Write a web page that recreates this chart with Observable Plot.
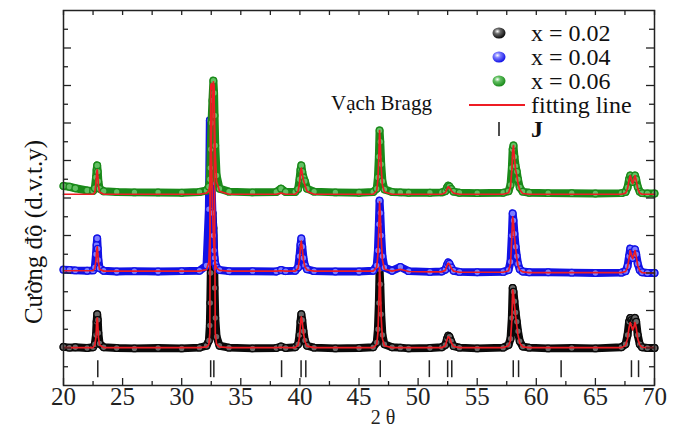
<!DOCTYPE html>
<html><head><meta charset="utf-8">
<script src="https://cdn.jsdelivr.net/npm/d3@7"></script>
<script src="https://cdn.jsdelivr.net/npm/@observablehq/plot@0.6"></script>
<style>
html,body{margin:0;padding:0;background:#fff;}
#chart{position:relative;width:679px;height:428px;}
</style></head><body><div id="chart"></div>
<script>
// ---- data ----
const twoTheta = [
  20, 20.5, 21, 22, 22.5,
  22.65, 22.75, 22.8, 22.85, 22.9, 22.95, 23.05,
  23.4, 24.5, 26, 28, 30, 31.5, 32.1,
  32.3, 32.38, 32.42, 32.46, 32.52, 32.6, 32.68, 32.74, 32.78, 32.84, 32.95, 33.2,
  34, 36, 38, 38.4, 38.8, 39.6,
  39.85, 39.97, 40.05, 40.12, 40.2, 40.3, 40.42, 40.6,
  41.2, 43, 45, 46.2,
  46.5, 46.6, 46.68, 46.74, 46.8, 46.88, 46.98, 47.15,
  47.8, 48.5, 49.2, 51, 52,
  52.3, 52.45, 52.55, 52.65, 52.8, 53.0,
  53.5, 55, 57.2,
  57.65, 57.82, 57.93, 58.0, 58.07, 58.15, 58.25, 58.35, 58.45, 58.6, 58.85,
  59.4, 61, 63, 65, 67.2,
  67.55, 67.72, 67.85, 67.95, 68.05, 68.15, 68.25, 68.35, 68.45, 68.58, 68.75, 68.95,
  69.4, 70
];
const obs002 = [
  10.3, 10.1, 10.2, 10.0, 10.2,
  11.0, 13.5, 17.0, 19.0, 17.5, 14.0, 11.2,
  10.2, 10.0, 9.9, 10.0, 9.9, 10.1, 10.6,
  12.0, 16.0, 22.0, 30.0, 38.0, 46.0, 42.0, 34.0, 26.0, 18.0, 13.0, 10.6,
  10.1, 9.9, 10.0, 10.4, 10.0, 10.2,
  11.0, 13.5, 17.0, 19.0, 17.5, 14.5, 12.0, 10.6,
  10.1, 9.9, 10.0, 10.2,
  11.5, 15.0, 22.0, 31.0, 27.0, 19.0, 13.5, 11.0,
  10.2, 10.1, 9.9, 10.0, 10.2,
  10.8, 12.5, 13.3, 13.0, 11.8, 10.5,
  10.1, 9.9, 10.1,
  10.8, 12.5, 18.0, 26.0, 25.0, 22.5, 19.5, 17.0, 14.5, 11.8, 10.4,
  10.1, 9.9, 10.0, 9.9, 10.2,
  11.0, 13.5, 17.0, 18.0, 17.5, 17.0, 17.5, 18.0, 17.0, 13.5, 11.0, 10.2,
  10.0, 10.0
];
const fit002 = [
  10.1, 10.1, 10.1, 10.1, 10.1,
  10.8, 13.0, 16.5, 18.0, 16.5, 13.0, 10.8,
  10.1, 10.1, 10.1, 10.1, 10.1, 10.1, 10.3,
  11.0, 14.0, 50.0, 80.0, 80.5, 79.0, 80.5, 80.0, 50.0, 14.0, 11.0, 10.3,
  10.1, 10.1, 10.1, 10.2, 10.1, 10.1,
  10.8, 13.0, 16.5, 18.3, 17.0, 14.0, 11.8, 10.5,
  10.1, 10.1, 10.1, 10.1,
  11.0, 14.0, 22.0, 31.5, 28.0, 18.0, 12.5, 10.6,
  10.1, 10.1, 10.1, 10.1, 10.1,
  10.6, 12.2, 13.0, 12.8, 11.5, 10.4,
  10.1, 10.1, 10.1,
  10.6, 12.0, 17.5, 25.5, 24.5, 21.5, 18.5, 16.0, 13.5, 11.3, 10.3,
  10.1, 10.1, 10.1, 10.1, 10.1,
  10.7, 12.5, 15.5, 16.8, 15.8, 14.8, 15.5, 16.8, 15.5, 12.5, 10.8, 10.2,
  10.1, 10.1
];
const obs004 = [
  30.9, 30.8, 30.7, 30.6, 30.7,
  31.5, 35.0, 37.5, 39.2, 36.5, 33.5, 31.3,
  30.6, 30.4, 30.5, 30.4, 30.5, 30.6, 32.0,
  47.0, 70.7, 65.0, 60.0, 54.0, 46.0, 40.0, 36.0, 34.0, 32.5, 31.5, 30.8,
  30.5, 30.5, 30.4, 30.8, 30.5, 30.6,
  31.5, 34.5, 37.5, 39.2, 37.0, 34.0, 32.0, 31.0,
  30.5, 30.4, 30.4, 30.6,
  32.0, 36.0, 43.0, 49.3, 46.0, 40.0, 34.5, 31.5,
  30.6, 31.6, 30.5, 30.3, 30.4,
  30.9, 32.2, 32.8, 32.5, 31.5, 30.6,
  30.3, 30.2, 30.3,
  30.8, 33.0, 40.0, 45.9, 44.0, 40.5, 37.0, 34.5, 32.5, 31.0, 30.4,
  30.2, 30.2, 30.1, 30.0, 30.1,
  30.5, 31.8, 34.5, 36.5, 35.5, 34.0, 35.0, 36.3, 35.0, 32.5, 30.8, 30.2,
  30.0, 30.0
];
const fit004 = [
  30.6, 30.6, 30.6, 30.6, 30.6,
  31.2, 33.5, 35.8, 37.0, 35.5, 33.0, 31.0,
  30.5, 30.5, 30.5, 30.5, 30.5, 30.5, 30.9,
  33.0, 40.0, 55.0, 70.0, 62.0, 48.0, 40.0, 36.0, 34.0, 32.5, 31.3, 30.7,
  30.5, 30.5, 30.5, 30.6, 30.5, 30.5,
  31.2, 33.8, 37.0, 38.5, 36.5, 33.5, 31.7, 30.8,
  30.5, 30.5, 30.5, 30.5,
  31.5, 35.0, 42.5, 49.0, 45.5, 39.0, 33.5, 31.0,
  30.5, 31.0, 30.4, 30.3, 30.3,
  30.7, 32.0, 32.6, 32.3, 31.3, 30.5,
  30.2, 30.2, 30.2,
  30.6, 32.5, 39.5, 45.0, 43.5, 40.0, 36.5, 34.0, 32.0, 30.8, 30.3,
  30.1, 30.1, 30.1, 30.1, 30.1,
  30.4, 31.5, 34.0, 36.0, 34.8, 33.8, 34.8, 36.0, 34.5, 32.0, 30.6, 30.1,
  30.0, 30.0
];
const obs006 = [
  53.2, 53.0, 52.6, 52.0, 51.9,
  52.6, 55.5, 57.5, 58.7, 57.0, 54.5, 52.5,
  51.8, 51.6, 51.5, 51.5, 51.4, 51.6, 52.0,
  53.0, 55.0, 58.0, 63.0, 70.0, 76.0, 81.3, 78.0, 72.0, 64.0, 56.0, 52.5,
  51.7, 51.5, 51.6, 52.5, 51.6, 51.6,
  52.4, 55.0, 57.5, 58.7, 57.0, 55.5, 54.5, 52.5,
  51.7, 51.5, 51.4, 51.6,
  52.5, 55.5, 61.0, 68.0, 65.0, 59.0, 54.5, 52.3,
  51.6, 51.5, 51.4, 51.4, 51.5,
  51.8, 52.8, 53.3, 53.1, 52.4, 51.7,
  51.4, 51.3, 51.4,
  51.8, 53.5, 58.0, 63.0, 64.0, 61.0, 58.5, 57.0, 55.0, 52.8, 51.7,
  51.4, 51.3, 51.3, 51.2, 51.3,
  51.6, 52.8, 55.0, 56.0, 55.2, 54.3, 55.0, 56.0, 55.0, 53.0, 51.7, 51.3,
  51.2, 51.2
];
const fit006 = [
  51.0, 51.0, 51.0, 51.0, 51.0,
  51.5, 54.0, 56.5, 57.5, 56.0, 53.5, 51.6,
  51.0, 51.0, 51.0, 51.0, 51.0, 51.0, 51.3,
  52.0, 53.5, 56.0, 60.0, 67.0, 75.0, 81.0, 77.0, 70.0, 62.0, 54.5, 51.8,
  51.0, 51.0, 51.0, 51.3, 51.0, 51.0,
  51.8, 54.0, 56.8, 58.0, 56.5, 54.8, 53.5, 51.8,
  51.0, 51.0, 51.0, 51.0,
  52.0, 55.0, 61.0, 68.0, 64.5, 58.0, 53.5, 51.6,
  51.0, 51.0, 51.0, 51.0, 51.0,
  51.4, 52.4, 53.0, 52.8, 52.0, 51.3,
  51.0, 51.0, 51.0,
  51.4, 53.0, 57.5, 62.5, 64.0, 60.5, 57.5, 56.0, 54.0, 52.2, 51.2,
  51.0, 51.0, 51.0, 51.0, 51.0,
  51.3, 52.5, 54.8, 56.0, 54.8, 53.8, 54.8, 56.0, 54.8, 52.5, 51.3, 51.0,
  51.0, 51.0
];
const braggLines = [22.9, 32.45, 32.72, 38.45, 40.1, 40.5, 46.8, 50.95, 52.5, 52.85, 58.05, 58.5, 62.1, 68.05, 68.65];
const xMajorTicks = [20, 25, 30, 35, 40, 45, 50, 55, 60, 65, 70];
const xMinorTicks = [22.5, 27.5, 32.5, 37.5, 42.5, 47.5, 52.5, 57.5, 62.5, 67.5];
const yMajorTicks = [10, 20, 30, 40, 50, 60, 70, 80, 90];
const yMinorTicks = [5, 15, 25, 35, 45, 55, 65, 75, 85, 95];
const seriesLabels = ["x = 0.02", "x = 0.04", "x = 0.06"];
const fitLabel = "fitting line";
const braggLabel = "J";
const annotations = [{text: "Vạch Bragg", x: 46.9, y: 75.2}];
const xLabel = "2 θ";
const yLabel = "Cường độ (d.v.t.y)";

// ---- layout / style ----
const W = 679, H = 428, mL = 63, mR = 25, mT = 10, mB = 43;
const xDomain = [20, 70], yDomain = [0, 100];
const yPerPx = (yDomain[1] - yDomain[0]) / (H - mT - mB);
const xPerPx = (xDomain[1] - xDomain[0]) / (W - mL - mR);
const FONT = "'Liberation Serif', 'Times New Roman', serif";
const colors = [
  {stroke: "#0a0a0a", fill: "#6a6a6a"},
  {stroke: "#1212e6", fill: "#7d7dff"},
  {stroke: "#1a8a1a", fill: "#63c063"}
];
const RED = "#ee1c24";

const obsSeries = [obs002, obs004, obs006];
const fitSeries = [fit002, fit004, fit006];
const rows = ys => twoTheta.map((t, i) => ({t, v: ys[i]}));

const marks = [];
obsSeries.forEach((ys, k) => {
  const data = rows(ys);
  marks.push(Plot.line(data, {x: "t", y: "v", stroke: colors[k].stroke, strokeWidth: 8, strokeLinecap: "round", strokeLinejoin: "round"}));
  marks.push(Plot.dot(data, {x: "t", y: "v", r: 3.3, fill: colors[k].fill, stroke: colors[k].stroke, strokeWidth: 1.3}));
});
fitSeries.forEach(ys => {
  marks.push(Plot.line(rows(ys), {x: "t", y: "v", stroke: RED, strokeWidth: 1.7}));
});
// Bragg position markers
marks.push(Plot.ruleX(braggLines, {x: d => d, y1: 2.1, y2: 6.6, stroke: "#222", strokeWidth: 1.5}));
// frame & inward ticks
marks.push(Plot.frame({stroke: "#222", strokeWidth: 1.5}));
marks.push(Plot.ruleX(xMajorTicks, {x: d => d, y1: yDomain[0], y2: yDomain[0] + 7 * yPerPx, stroke: "#222", strokeWidth: 1.3}));
marks.push(Plot.ruleX(xMinorTicks, {x: d => d, y1: yDomain[0], y2: yDomain[0] + 4 * yPerPx, stroke: "#222", strokeWidth: 1.3}));
marks.push(Plot.ruleX(xMajorTicks.concat(xMinorTicks), {x: d => d, y1: yDomain[1], y2: yDomain[1] - 5 * yPerPx, stroke: "#222", strokeWidth: 1.3}));
marks.push(Plot.ruleY(yMajorTicks, {y: d => d, x1: xDomain[0], x2: xDomain[0] + 8 * xPerPx, stroke: "#222", strokeWidth: 1.3}));
marks.push(Plot.ruleY(yMinorTicks, {y: d => d, x1: xDomain[0], x2: xDomain[0] + 5 * xPerPx, stroke: "#222", strokeWidth: 1.3}));
marks.push(Plot.ruleY(yMajorTicks, {y: d => d, x1: xDomain[1], x2: xDomain[1] - 8 * xPerPx, stroke: "#222", strokeWidth: 1.3}));
marks.push(Plot.ruleY(yMinorTicks, {y: d => d, x1: xDomain[1], x2: xDomain[1] - 5 * xPerPx, stroke: "#222", strokeWidth: 1.3}));
// tick labels
marks.push(Plot.axisX(xMajorTicks, {tickSize: 0, tickPadding: 2, fontSize: 25, fontFamily: FONT, fill: "#222"}));
// annotation
marks.push(Plot.text(annotations, {x: "x", y: "y", text: "text", fontSize: 21, fontFamily: FONT, fill: "#111"}));
// axis titles
marks.push(Plot.text([xLabel], {text: d => d, frameAnchor: "bottom", textAnchor: "middle", lineAnchor: "middle", dx: 24, dy: 32, fontSize: 20, fontFamily: FONT, fill: "#222"}));
marks.push(Plot.text([yLabel], {text: d => d, frameAnchor: "left", textAnchor: "middle", lineAnchor: "middle", rotate: -90, dx: -30, dy: 34, fontSize: 25, fontFamily: FONT, fill: "#111"}));

const chart = Plot.plot({
  width: W, height: H,
  marginLeft: mL, marginRight: mR, marginTop: mT, marginBottom: mB,
  x: {domain: xDomain, axis: null},
  y: {domain: yDomain, axis: null},
  style: {fontFamily: FONT, background: "#fff", overflow: "visible"},
  marks
});
document.getElementById("chart").appendChild(chart);

// ---- legend (inside the frame, top right) ----
const svg = d3.select(chart);
const defs = svg.append("defs");
colors.forEach((c, k) => {
  const g = defs.append("radialGradient").attr("id", "ball" + k).attr("cx", "38%").attr("cy", "35%").attr("r", "65%");
  g.append("stop").attr("offset", "0%").attr("stop-color", "#ffffff");
  g.append("stop").attr("offset", "35%").attr("stop-color", c.fill);
  g.append("stop").attr("offset", "100%").attr("stop-color", c.stroke);
});
const lg = svg.append("g").attr("font-family", FONT).attr("font-size", 24).attr("fill", "#111").attr("text-anchor", "start");
const rowY = [33, 57, 81, 105, 129];
const symX = 499, textX = 531;
seriesLabels.forEach((s, k) => {
  lg.append("ellipse").attr("cx", symX).attr("cy", rowY[k]).attr("rx", 6.5).attr("ry", 5.5).attr("fill", `url(#ball${k})`);
  lg.append("text").attr("x", textX).attr("y", rowY[k]).attr("dy", "0.32em").attr("text-anchor", "start").text(s);
});
lg.append("line").attr("x1", 469).attr("x2", 525).attr("y1", rowY[3]).attr("y2", rowY[3]).attr("stroke", RED).attr("stroke-width", 2);
lg.append("text").attr("x", textX).attr("y", rowY[3]).attr("dy", "0.32em").attr("text-anchor", "start").text(fitLabel);
lg.append("line").attr("x1", symX).attr("x2", symX).attr("y1", rowY[4] - 7).attr("y2", rowY[4] + 7).attr("stroke", "#222").attr("stroke-width", 1.6);
lg.append("text").attr("x", textX).attr("y", rowY[4]).attr("dy", "0.32em").attr("text-anchor", "start").attr("font-weight", "bold").text(braggLabel);
</script></body></html>
